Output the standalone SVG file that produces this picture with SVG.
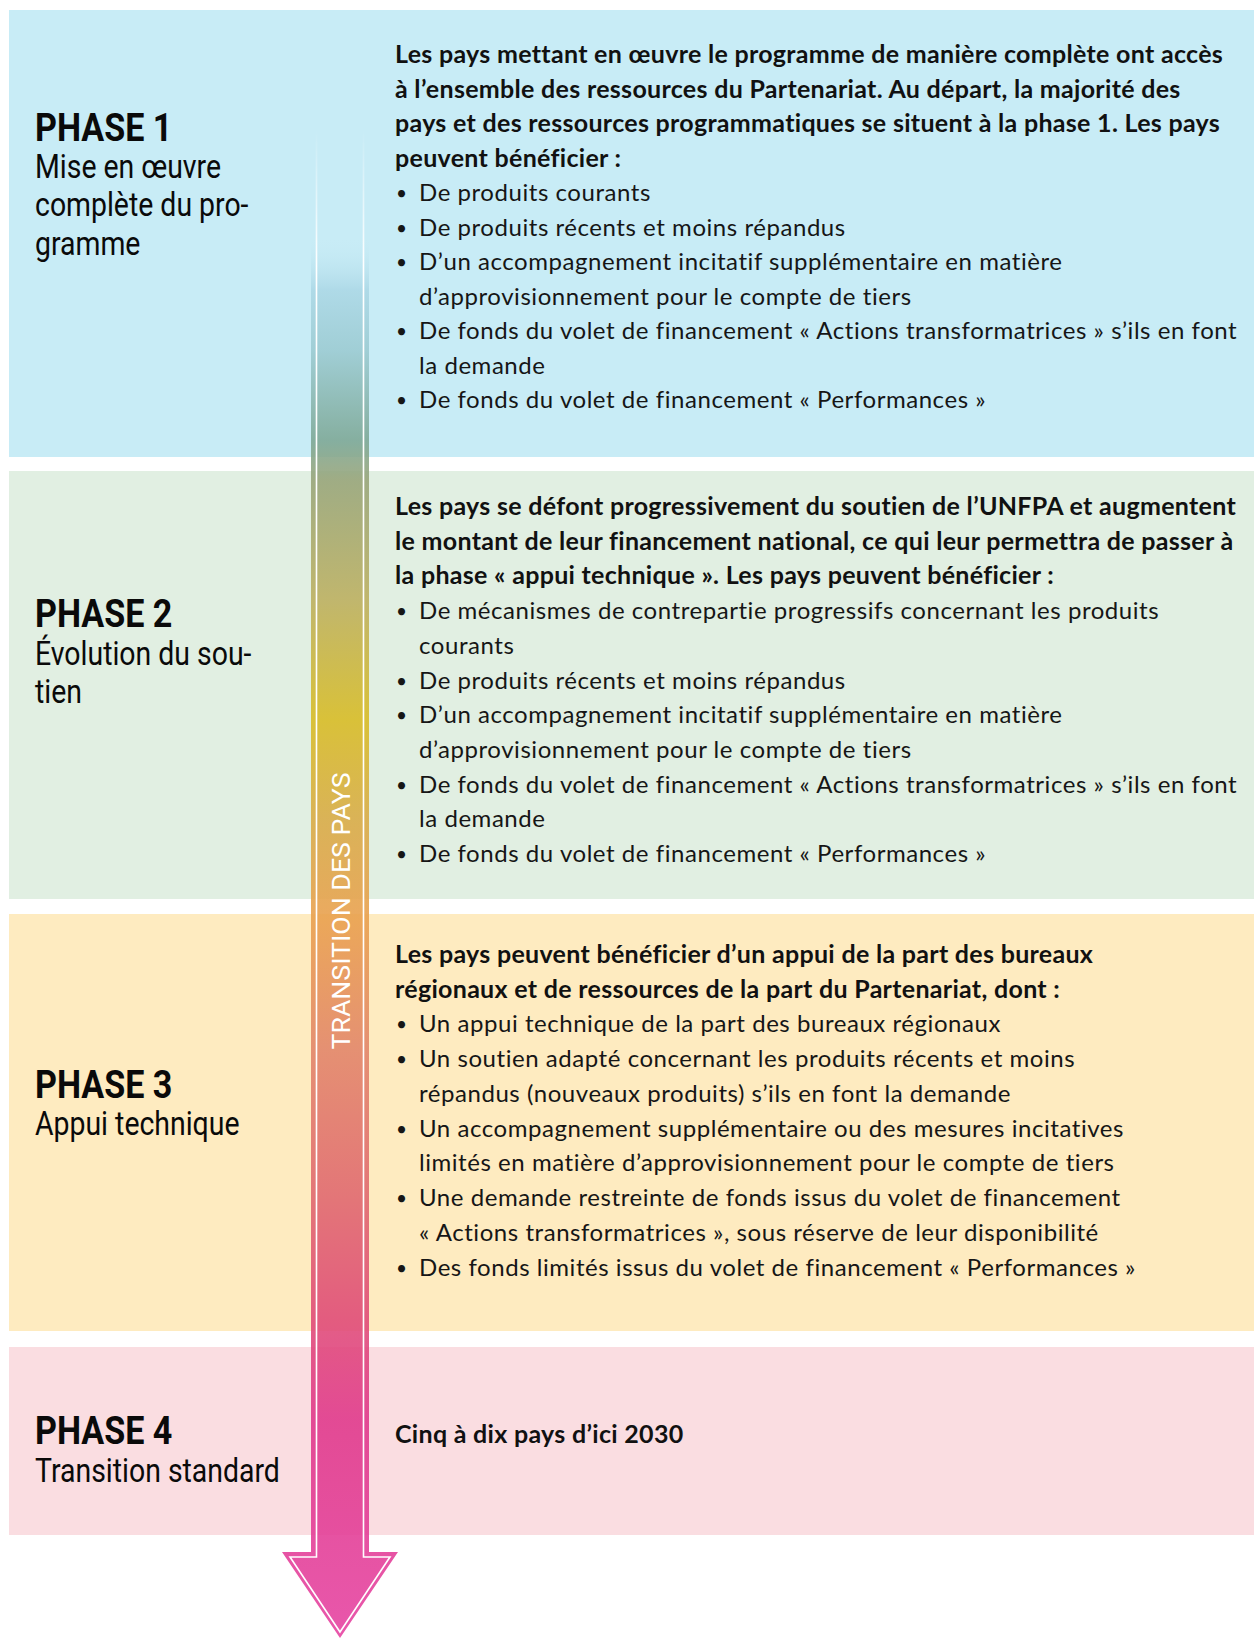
<svg xmlns="http://www.w3.org/2000/svg" width="1254" height="1640" viewBox="0 0 1254 1640">
<style>
.ttl{font-family:Roboto,"Liberation Sans",sans-serif;font-weight:700;font-size:39px;fill:#0a0a0a}
.sub{font-family:Roboto,"Liberation Sans",sans-serif;font-weight:400;font-size:32.5px;fill:#0a0a0a}
.b{font-family:Lato,"Open Sans",sans-serif;font-weight:700;font-size:25px;letter-spacing:0.3px;fill:#111}
.r{font-family:Lato,"Open Sans",sans-serif;font-weight:400;font-size:24px;letter-spacing:0.55px;fill:#161616}
.bu{font-family:Lato,"Open Sans",sans-serif;font-weight:400;font-size:19px;fill:#161616}
.vt{font-family:Roboto,"Liberation Sans",sans-serif;font-weight:400;font-size:26.5px;fill:#fff}
</style>
<defs>
<linearGradient id="ag" gradientUnits="userSpaceOnUse" x1="0" y1="130" x2="0" y2="1638">
<stop offset="0" stop-color="#c8ecf6" stop-opacity="0"/>
<stop offset="0.07" stop-color="#c8ecf6" stop-opacity="0"/>
<stop offset="0.106" stop-color="#acd8e6" stop-opacity="1"/>
<stop offset="0.146" stop-color="#9ccbd2"/>
<stop offset="0.206" stop-color="#7ea896"/>
<stop offset="0.232" stop-color="#98a57a"/>
<stop offset="0.312" stop-color="#bdb060"/>
<stop offset="0.391" stop-color="#d8bc26"/>
<stop offset="0.457" stop-color="#d9ac48"/>
<stop offset="0.524" stop-color="#e9a04e"/>
<stop offset="0.610" stop-color="#e2866a"/>
<stop offset="0.710" stop-color="#e06870"/>
<stop offset="0.789" stop-color="#e04c78"/>
<stop offset="0.855" stop-color="#e03a8c"/>
<stop offset="1" stop-color="#e644a2"/>
</linearGradient>
<linearGradient id="wg" gradientUnits="userSpaceOnUse" x1="0" y1="130" x2="0" y2="1638">
<stop offset="0" stop-color="#fff" stop-opacity="0"/>
<stop offset="0.09" stop-color="#fff" stop-opacity="1"/>
<stop offset="1" stop-color="#fff" stop-opacity="1"/>
</linearGradient>
</defs>
<rect width="1254" height="1640" fill="#fff"/>
<g id="phase1">
<rect x="9" y="10" width="1245" height="447" fill="#c8ecf6"/>
<g transform="translate(35 0) scale(0.875 1)">
<text class="ttl" x="0" y="141" textLength="157" lengthAdjust="spacingAndGlyphs">PHASE 1</text>
<text class="sub" x="0" y="178">Mise en œuvre</text>
<text class="sub" x="0" y="216.5">complète du pro-</text>
<text class="sub" x="0" y="255">gramme</text>
</g>
<text class="b" x="395" y="63">Les pays mettant en œuvre le programme de manière complète ont accès</text>
<text class="b" x="395" y="97.5">à l’ensemble des ressources du Partenariat. Au départ, la majorité des</text>
<text class="b" x="395" y="132">pays et des ressources programmatiques se situent à la phase 1. Les pays</text>
<text class="b" x="395" y="166.5">peuvent bénéficier :</text>
<text class="bu" x="396" y="200">•</text><text class="r" x="419" y="201">De produits courants</text>
<text class="bu" x="396" y="234.5">•</text><text class="r" x="419" y="235.5">De produits récents et moins répandus</text>
<text class="bu" x="396" y="269">•</text><text class="r" x="419" y="270">D’un accompagnement incitatif supplémentaire en matière</text>
<text class="r" x="419" y="304.5">d’approvisionnement pour le compte de tiers</text>
<text class="bu" x="396" y="338">•</text><text class="r" x="419" y="339">De fonds du volet de financement « Actions transformatrices » s’ils en font</text>
<text class="r" x="419" y="373.5">la demande</text>
<text class="bu" x="396" y="407">•</text><text class="r" x="419" y="408">De fonds du volet de financement « Performances »</text>
</g>
<g id="phase2">
<rect x="9" y="471" width="1245" height="428" fill="#e1efe2"/>
<g transform="translate(35 0) scale(0.875 1)">
<text class="ttl" x="0" y="627" textLength="157" lengthAdjust="spacingAndGlyphs">PHASE 2</text>
<text class="sub" x="0" y="665">Évolution du sou-</text>
<text class="sub" x="0" y="703">tien</text>
</g>
<text class="b" x="395" y="515">Les pays se défont progressivement du soutien de l’UNFPA et augmentent</text>
<text class="b" x="395" y="549.7">le montant de leur financement national, ce qui leur permettra de passer à</text>
<text class="b" x="395" y="584.4">la phase « appui technique ». Les pays peuvent bénéficier :</text>
<text class="bu" x="396" y="618.1">•</text><text class="r" x="419" y="619.1">De mécanismes de contrepartie progressifs concernant les produits</text>
<text class="r" x="419" y="653.8">courants</text>
<text class="bu" x="396" y="687.5">•</text><text class="r" x="419" y="688.5">De produits récents et moins répandus</text>
<text class="bu" x="396" y="722.2">•</text><text class="r" x="419" y="723.2">D’un accompagnement incitatif supplémentaire en matière</text>
<text class="r" x="419" y="757.9">d’approvisionnement pour le compte de tiers</text>
<text class="bu" x="396" y="791.6">•</text><text class="r" x="419" y="792.6">De fonds du volet de financement « Actions transformatrices » s’ils en font</text>
<text class="r" x="419" y="827.3">la demande</text>
<text class="bu" x="396" y="861">•</text><text class="r" x="419" y="862">De fonds du volet de financement « Performances »</text>
</g>
<g id="phase3">
<rect x="9" y="914" width="1245" height="417" fill="#feebc0"/>
<g transform="translate(35 0) scale(0.875 1)">
<text class="ttl" x="0" y="1098" textLength="157" lengthAdjust="spacingAndGlyphs">PHASE 3</text>
<text class="sub" x="0" y="1135">Appui technique</text>
</g>
<text class="b" x="395" y="963">Les pays peuvent bénéficier d’un appui de la part des bureaux</text>
<text class="b" x="395" y="997.7">régionaux et de ressources de la part du Partenariat, dont :</text>
<text class="bu" x="396" y="1031.4">•</text><text class="r" x="419" y="1032.4">Un appui technique de la part des bureaux régionaux</text>
<text class="bu" x="396" y="1066.1">•</text><text class="r" x="419" y="1067.1">Un soutien adapté concernant les produits récents et moins</text>
<text class="r" x="419" y="1101.8">répandus (nouveaux produits) s’ils en font la demande</text>
<text class="bu" x="396" y="1135.5">•</text><text class="r" x="419" y="1136.5">Un accompagnement supplémentaire ou des mesures incitatives</text>
<text class="r" x="419" y="1171.2">limités en matière d’approvisionnement pour le compte de tiers</text>
<text class="bu" x="396" y="1204.9">•</text><text class="r" x="419" y="1205.9">Une demande restreinte de fonds issus du volet de financement</text>
<text class="r" x="419" y="1240.6">« Actions transformatrices », sous réserve de leur disponibilité</text>
<text class="bu" x="396" y="1274.5">•</text><text class="r" x="419" y="1275.5">Des fonds limités issus du volet de financement « Performances »</text>
</g>
<g id="phase4">
<rect x="9" y="1347" width="1245" height="188" fill="#fadde1"/>
<g transform="translate(35 0) scale(0.875 1)">
<text class="ttl" x="0" y="1444" textLength="157" lengthAdjust="spacingAndGlyphs">PHASE 4</text>
<text class="sub" x="0" y="1482">Transition standard</text>
</g>
<text class="b" x="395" y="1443">Cinq à dix pays d’ici 2030</text>
</g>
<g id="connectors">
<g id="transition-arrow">
<path d="M311,130 L369,130 L369,1552 L398,1552 L340,1638 L282,1552 L311,1552 Z" fill="url(#ag)" opacity="0.9"/>
<path d="M316.5,130 V1557 H290 L340,1632 L390,1557 H363.5 V130" fill="none" stroke="url(#wg)" stroke-width="1.6"/>
<text class="vt" transform="translate(350 911) rotate(-90)" x="0" y="0" text-anchor="middle" textLength="277" lengthAdjust="spacingAndGlyphs">TRANSITION DES PAYS</text>
</g>
</g>
</svg>
